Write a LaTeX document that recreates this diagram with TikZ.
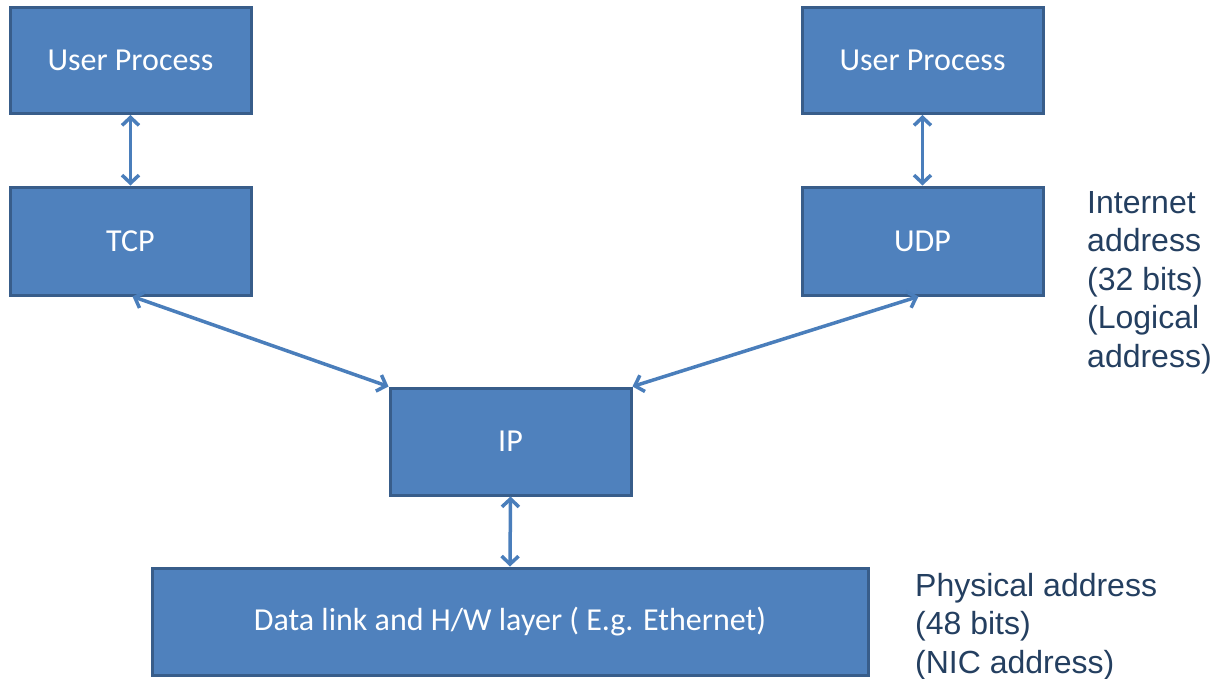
\documentclass[tikz,border=0pt]{standalone}
\usepackage{fontspec}
\setmainfont{Carlito}
\newfontfamily\notefont{Liberation Sans}
\usetikzlibrary{arrows.meta}
\definecolor{boxfill}{HTML}{4F81BD}
\definecolor{boxline}{HTML}{385D8A}
\definecolor{linkcol}{HTML}{4A7EBB}
\definecolor{notecol}{HTML}{243F60}
\tikzset{
  layer/.style={draw=boxline, line width=3pt, fill=boxfill, text=white,
    minimum width=241pt, minimum height=106pt, inner sep=0pt,
    font=\fontsize{32}{38}\selectfont},
  link/.style={draw=linkcol, line width=3.5pt,
    {Straight Barb[length=8pt,width=17pt,line width=3.5pt]}-{Straight Barb[length=8pt,width=17pt,line width=3.5pt]}},
  note/.style={text=notecol, anchor=north west, inner sep=0pt, align=left,
    font=\notefont\fontsize{32}{38.5}\selectfont}
}
\begin{document}
\begin{tikzpicture}[x=1pt,y=-1pt]
\useasboundingbox (0,0) rectangle (1219,678);
% application layer
\node[layer] (upl) at (130.5,60.5) {User Process};
\node[layer] (upr) at (922.5,60.5) {User Process};
% transport layer
\node[layer, minimum height=108pt] (tcp) at (130.5,241) {TCP};
\node[layer, minimum height=108pt] (udp) at (922.5,241) {UDP};
% network layer
\node[layer, minimum height=107pt] (ip) at (510.5,441.5) {IP};
% link layer
\node[layer, minimum width=716pt, minimum height=107pt] (dl) at (510,621.5)
  {Data link and H/W layer ( E.g. Ethernet)};
% address notes
\node[note] (inet) at (1087,191) {Internet\\address\\(32 bits)\\(Logical\\address)};
\node[note] (phys) at (915,573) {Physical address\\(48 bits)\\(NIC address)};
% connections
\draw[link] (upl.south) -- (tcp.north);
\draw[link] (upr.south) -- (udp.north);
\draw[link] ([xshift=2pt]tcp.south) -- (ip.north west);
\draw[link] ([xshift=-4pt]udp.south) -- (ip.north east);
\draw[link] (ip.south) -- (dl.north);
\end{tikzpicture}
\end{document}
